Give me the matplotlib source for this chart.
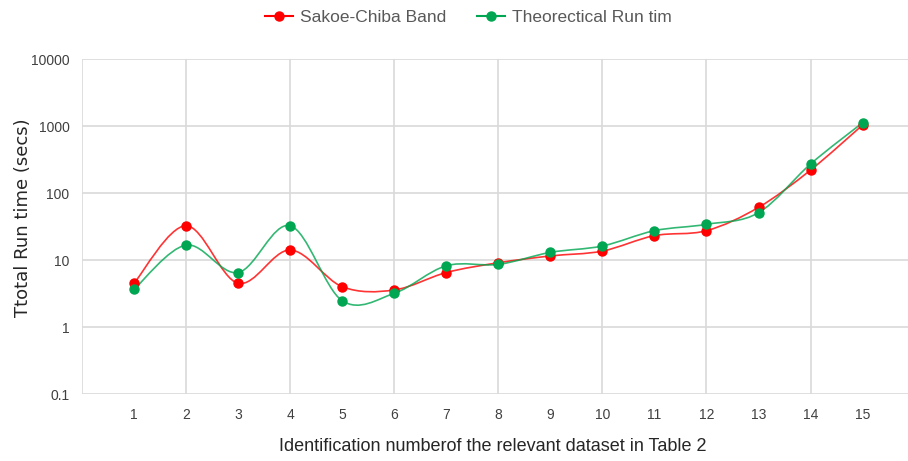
import numpy as np
import matplotlib
matplotlib.use("Agg")
import matplotlib.pyplot as plt
from matplotlib.path import Path
from matplotlib.patches import PathPatch
from matplotlib.lines import Line2D

# data
datasets = list(range(1, 16))
sakoe = [4.5, 32.5, 4.5, 14.1, 4.0, 3.57, 6.5, 9.1, 11.5, 13.6, 23.1, 27.4, 61, 220, 1035]
theory = [3.65, 16.7, 6.5, 32.5, 2.47, 3.18, 8.2, 8.6, 13.0, 16.2, 27.4, 34.1, 50.8, 271, 1120]
yticks = [0.1, 1, 10, 100, 1000, 10000]

RED = "#ff0000"
GREEN = "#00a651"
narrow = "Liberation Sans"


def smooth_path(xs, ys):
    # Excel-like smoothed line: Catmull-Rom bezier built in (x, log y) space
    x = np.asarray(xs, float)
    ly = np.log10(ys)
    n = len(x)
    verts = [(x[0], ly[0])]
    codes = [Path.MOVETO]
    for i in range(n - 1):
        i0 = max(i - 1, 0)
        i3 = min(i + 2, n - 1)
        c1 = (x[i] + (x[i + 1] - x[i0]) / 6, ly[i] + (ly[i + 1] - ly[i0]) / 6)
        c2 = (x[i + 1] - (x[i3] - x[i]) / 6, ly[i + 1] - (ly[i3] - ly[i]) / 6)
        verts += [c1, c2, (x[i + 1], ly[i + 1])]
        codes += [Path.CURVE4] * 3
    verts = [(vx, 10 ** vy) for vx, vy in verts]
    return Path(verts, codes)


fig = plt.figure(figsize=(9.08, 4.61), dpi=100)
ax = fig.add_axes([0.0903, 0.1453, 0.917, 0.7267])

ax.set_yscale("log")
ax.set_ylim(0.1, 10000)
ax.set_xlim(0, 16)

for ys, col in [(sakoe, RED), (theory, GREEN)]:
    ax.add_patch(PathPatch(smooth_path(datasets, ys), facecolor="none",
                           edgecolor=col, lw=1.2, alpha=0.8, zorder=3))
    ax.plot(datasets, ys, ls="none", marker="o", ms=6.5, color=col,
            mec=col, zorder=4)

# grid: horizontal at each decade, vertical every second category
for v in yticks:
    ax.axhline(v, color="#d9d9d9", lw=1.2, zorder=1)
for xv in range(0, 15, 2):
    ax.axvline(xv, color="#d9d9d9", lw=1.2, zorder=1)

for s in ax.spines.values():
    s.set_visible(False)

ax.set_yticks(yticks)
ax.set_yticklabels(["0.1", "1", "10", "100", "1000", "10000"])
ax.yaxis.set_minor_locator(matplotlib.ticker.NullLocator())
ax.set_xticks(datasets)
ax.set_xticklabels([str(d) for d in datasets])
ax.tick_params(length=0, labelsize=10, labelcolor="#404040")
ax.tick_params(axis="y", pad=9)
ax.tick_params(axis="x", pad=10)
for lab in ax.get_xticklabels() + ax.get_yticklabels():
    lab.set_family(narrow)

fig.text(23 / 908, 1 - 218 / 461, "Ttotal Run time (secs)", rotation=90,
         ha="center", va="center", fontsize=13, color="#262626",
         family="DejaVu Sans")
fig.text(493 / 908, 1 - 446 / 461,
         "Identification numberof the relevant dataset in Table 2",
         ha="center", va="center", fontsize=13, color="#262626", family=narrow)

handles = [Line2D([], [], color=RED, marker="o", ms=6.5, lw=1.5),
           Line2D([], [], color=GREEN, marker="o", ms=6.5, lw=1.5)]
fig.legend(handles, ["Sakoe-Chiba Band", "Theorectical Run tim"],
           loc="center", bbox_to_anchor=(0.516, 0.963), ncol=2, frameon=False,
           prop={"family": narrow, "size": 12.5}, labelcolor="#595959",
           handlelength=1.6, handletextpad=0.4, columnspacing=1.8)

fig.savefig("out.png", dpi=100)
